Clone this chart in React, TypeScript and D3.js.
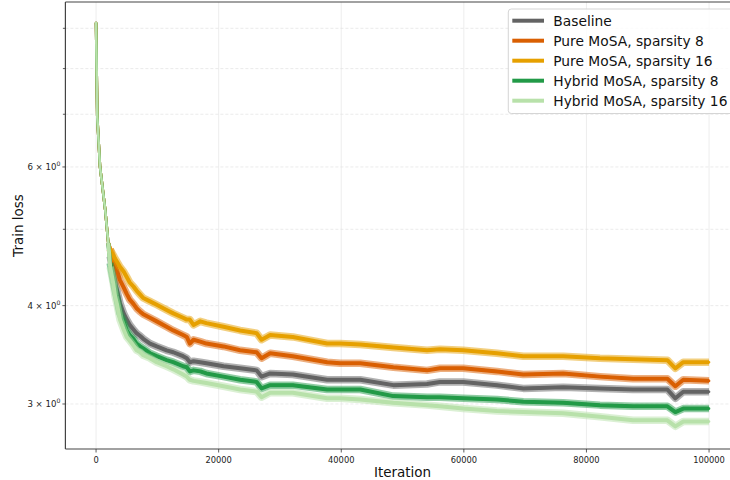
import React from 'react';
import * as d3 from 'd3';

const iterations = [
  0, 200, 650, 1500, 2000, 2300, 2800, 3100, 3400, 3900, 4500, 5000, 5500, 6100, 6600,
  7200, 7700, 8800, 9900, 11500, 12600, 14200, 14800, 15300, 15900, 17000, 18000, 20800,
  23500, 26200, 27000, 28400, 32100, 37700, 39800, 43100, 48500, 54000, 56100, 59900,
  65400, 69700, 76200, 82200, 87600, 93200, 94500, 95800, 100000,
];

const baseline = [
  9.14, 6.95, 6.0, 5.29, 4.8, 4.62, 4.41, 4.27, 4.19, 4.03, 3.91, 3.84, 3.78, 3.73, 3.69,
  3.66, 3.63, 3.58, 3.55, 3.51, 3.49, 3.45, 3.43, 3.39, 3.4, 3.39, 3.38, 3.35, 3.33, 3.31,
  3.25, 3.28, 3.27, 3.22, 3.22, 3.22, 3.17, 3.18, 3.2, 3.2, 3.17, 3.14, 3.15, 3.14, 3.13,
  3.13, 3.05, 3.11, 3.11,
];
const pureS8 = [
  9.14, 6.95, 6.0, 5.29, 4.8, 4.72, 4.57, 4.5, 4.44, 4.31, 4.22, 4.14, 4.07, 4.02, 3.97,
  3.93, 3.9, 3.86, 3.82, 3.76, 3.72, 3.67, 3.65, 3.58, 3.62, 3.6, 3.58, 3.55, 3.51, 3.49,
  3.43, 3.48, 3.45, 3.39, 3.38, 3.38, 3.34, 3.31, 3.33, 3.33, 3.3, 3.27, 3.28, 3.25, 3.23,
  3.23, 3.16, 3.22, 3.21,
];
const pureS16 = [
  9.14, 6.95, 6.0, 5.29, 4.8, 4.71, 4.64, 4.59, 4.55, 4.48, 4.42, 4.35, 4.28, 4.23, 4.18,
  4.13, 4.09, 4.05, 4.01, 3.95, 3.91, 3.86, 3.84, 3.84, 3.78, 3.82, 3.8, 3.76, 3.72, 3.69,
  3.62, 3.67, 3.65, 3.58, 3.58, 3.57, 3.54, 3.51, 3.52, 3.51, 3.48, 3.45, 3.45, 3.43, 3.42,
  3.41, 3.33, 3.39, 3.39,
];
const hybridS8 = [
  9.14, 6.95, 6.0, 5.29, 4.8, 4.53, 4.31, 4.19, 4.09, 3.91, 3.82, 3.72, 3.67, 3.63, 3.58,
  3.55, 3.53, 3.48, 3.45, 3.41, 3.39, 3.35, 3.34, 3.3, 3.31, 3.3, 3.28, 3.25, 3.22, 3.2,
  3.14, 3.17, 3.17, 3.13, 3.13, 3.13, 3.07, 3.06, 3.06, 3.05, 3.04, 3.02, 3.01, 2.99, 2.98,
  2.98, 2.93, 2.96, 2.96,
];
const hybridS16 = [
  9.14, 6.95, 6.0, 5.29, 4.8, 4.48, 4.27, 4.11, 4.02, 3.84, 3.73, 3.65, 3.61, 3.56, 3.51,
  3.49, 3.46, 3.43, 3.39, 3.35, 3.32, 3.27, 3.25, 3.22, 3.21, 3.2, 3.19, 3.16, 3.13, 3.11,
  3.06, 3.1, 3.1, 3.05, 3.05, 3.04, 3.01, 2.99, 2.98, 2.96, 2.94, 2.93, 2.92, 2.89, 2.86,
  2.86, 2.81, 2.85, 2.85,
];

const seriesNames = [
  'Baseline',
  'Pure MoSA, sparsity 8',
  'Pure MoSA, sparsity 16',
  'Hybrid MoSA, sparsity 8',
  'Hybrid MoSA, sparsity 16',
];
const seriesValues = [baseline, pureS8, pureS16, hybridS8, hybridS16];
const seriesColors = ['#636363', '#d95f02', '#e6a000', '#229a47', '#b8e1aa'];

const xTicks = [0, 20000, 40000, 60000, 80000, 100000];
const yLabelled = [3, 4, 6];
const yMinor = [5, 7, 8, 9];

const W = 730;
const H = 480;
const font = '"DejaVu Sans", sans-serif';

export default function App() {
  const left = 65.4;
  const top = 2;
  const bottom = 449;
  const right = 739.7;

  const x = d3.scaleLinear().domain([-5000, 105000]).range([left, right]);
  const y = d3.scaleLog().domain([2.63, 9.72]).range([bottom, top]);

  const line = d3
    .line<[number, number]>()
    .x(d => x(d[0]))
    .y(d => y(d[1]));

  const points = seriesValues.map(vals =>
    iterations.map((it, i) => [it, vals[i]] as [number, number])
  );
  // the noise band only becomes visible once the curves flatten out
  const bandStart = 5;

  return (
    <svg
      width={W}
      height={H}
      style={{ position: 'absolute', left: 0, top: 0, display: 'block', background: '#fff' }}
      fontFamily={font}
    >
      <defs>
        <clipPath id="plot-area">
          <rect x={left} y={top} width={right - left} height={bottom - top} />
        </clipPath>
      </defs>

      {/* grid */}
      {xTicks.map(t => (
        <line key={'gx' + t} x1={x(t)} x2={x(t)} y1={top} y2={bottom} stroke="#ebebeb" strokeWidth={0.9} />
      ))}
      {[...yLabelled, ...yMinor].map(t => (
        <line
          key={'gy' + t}
          x1={left}
          x2={right}
          y1={y(t)}
          y2={y(t)}
          stroke="#e2e2e2"
          strokeWidth={0.7}
          strokeDasharray="3,2"
        />
      ))}

      {/* curves: a soft band for the noise and a core line */}
      <g clipPath="url(#plot-area)" fill="none" strokeLinejoin="round">
        {points.map((pts, i) => (
          <g key={'s' + i}>
            <path
              d={line(pts.slice(bandStart)) ?? ''}
              stroke={seriesColors[i]}
              strokeWidth={7.5}
              strokeOpacity={0.5}
            />
            <path d={line(pts) ?? ''} stroke={seriesColors[i]} strokeWidth={2.6} strokeLinecap="round" />
            <path d={line(pts.slice(bandStart - 1)) ?? ''} stroke={seriesColors[i]} strokeWidth={4} />
          </g>
        ))}
      </g>

      {/* spines */}
      <line x1={left} x2={left} y1={top} y2={bottom} stroke="#444" strokeWidth={1.2} />
      <line x1={left} x2={right} y1={bottom} y2={bottom} stroke="#444" strokeWidth={1.2} />
      <line x1={left} x2={right} y1={top} y2={top} stroke="#444" strokeWidth={1.2} />

      {/* x axis */}
      {xTicks.map(t => (
        <g key={'xt' + t}>
          <line x1={x(t)} x2={x(t)} y1={bottom} y2={bottom + 3.5} stroke="#333" strokeWidth={0.8} />
          <text x={x(t)} y={bottom + 14} textAnchor="middle" fontSize={8.3} fill="#222">
            {t}
          </text>
        </g>
      ))}
      <text x={(left + right) / 2} y={477} textAnchor="middle" fontSize={13.5} fill="#111">
        Iteration
      </text>

      {/* y axis */}
      {yMinor.map(t => (
        <line key={'ym' + t} x1={left - 2.5} x2={left} y1={y(t)} y2={y(t)} stroke="#333" strokeWidth={0.8} />
      ))}
      {yLabelled.map(t => (
        <g key={'yt' + t}>
          <line x1={left - 3} x2={left} y1={y(t)} y2={y(t)} stroke="#333" strokeWidth={0.8} />
          <text x={left - 5} y={y(t) + 3} textAnchor="end" fontSize={8.6} fill="#222">
            {t} × 10<tspan fontSize={6.2} dy={-3.5}>0</tspan>
          </text>
        </g>
      ))}
      <text
        transform={`translate(23,${(top + bottom) / 2}) rotate(-90)`}
        textAnchor="middle"
        fontSize={13.5}
        fill="#111"
      >
        Train loss
      </text>

      {/* legend */}
      <rect x={508.3} y={9} width={240} height={104.5} rx={3} fill="#fff" fillOpacity={0.8} stroke="#d0d0d0" strokeWidth={0.9} />
      {seriesNames.map((name, i) => (
        <g key={'lg' + i} transform={`translate(0,${20.7 + i * 20})`}>
          <line x1={512.3} x2={544} y1={0} y2={0} stroke={seriesColors[i]} strokeWidth={4} />
          <text x={553.3} y={5} fontSize={13.8} fill="#111">
            {name}
          </text>
        </g>
      ))}
    </svg>
  );
}
